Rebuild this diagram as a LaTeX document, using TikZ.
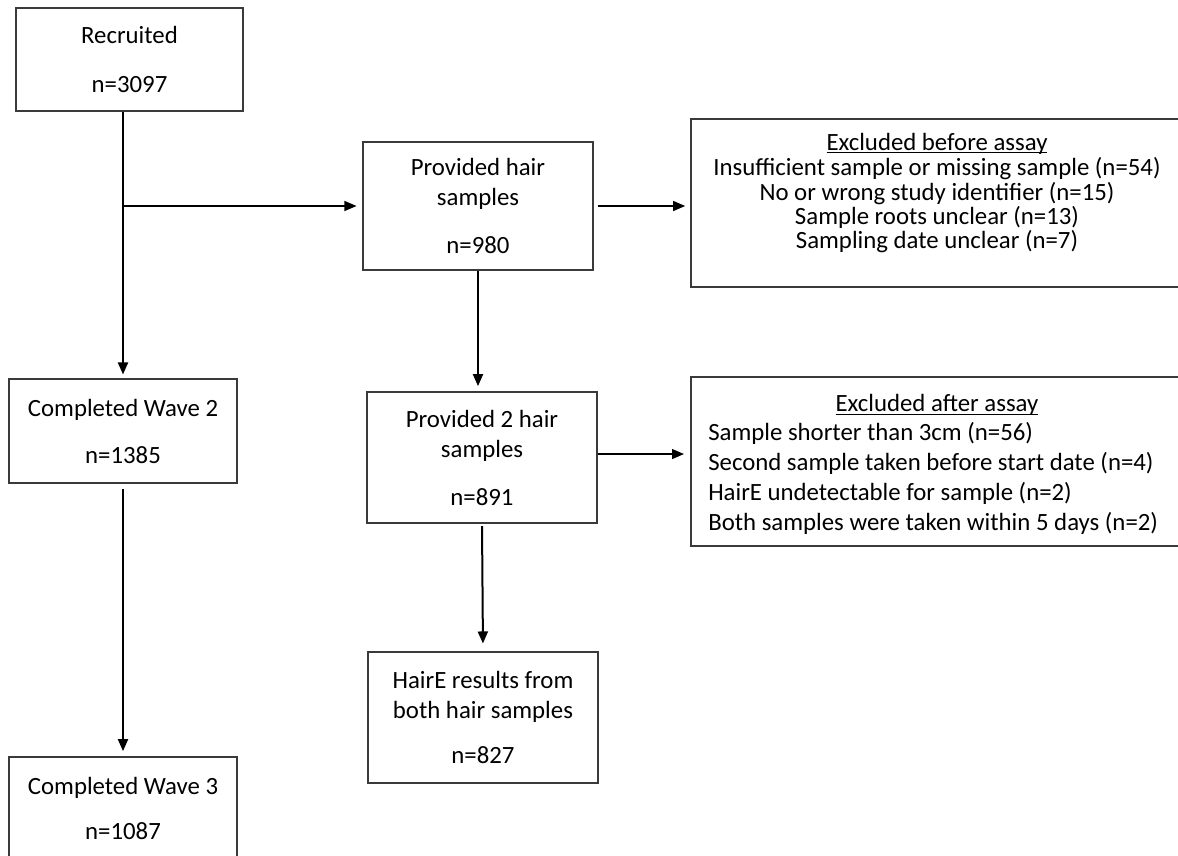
\documentclass[tikz,border=0pt]{standalone}
\usepackage{fontspec}
\setmainfont{Carlito}
\usetikzlibrary{arrows.meta}
\definecolor{boxgray}{HTML}{3A3A3A}
\newcommand\mytightlines{\lineskiplimit -40pt\relax}
\newcommand\myul[1]{\setbox0\hbox{#1}\rlap{\rule[-2.4pt]{\wd0}{0.85pt}}\box0}
\begin{document}
\begin{tikzpicture}[x=0.75pt,y=-0.75pt,
  box/.style={draw=boxgray,line width=0.8pt,inner sep=0pt,align=center,
    font=\fontsize{18.6}{22.5}\selectfont},
  txt/.style={inner sep=0pt,font=\fontsize{18.6}{22.5}\selectfont},
  tighttxt/.style={inner sep=0pt,font={\fontsize{18.6}{18.2}\selectfont\mytightlines}},
  thickarrow/.style={line width=1.5pt,-{Triangle[length=9pt,width=7.5pt]}},
  thinarrow/.style={line width=0.9pt,-{Triangle[length=9pt,width=7.5pt]}}]
\useasboundingbox (0,0) rectangle (1178,856);
% boxes
\node[box,minimum width=170.25pt,minimum height=77.25pt] (rec) at (129.5,59.5)
  {Recruited\\[14.25pt]n=3097};
\node[box,minimum width=172.5pt,minimum height=96pt] (ph) at (478,206)
  {Provided hair\\samples\\[13.5pt]n=980};
\node[box,minimum width=369pt,minimum height=126pt] (exb) at (937,203) {};
\node[tighttxt,align=center] (exbt) at (937,193)
  {\myul{Excluded before assay}\\[1pt]
   Insufficient sample or missing sample (n=54)\\
   No or wrong study identifier (n=15)\\
   Sample roots unclear (n=13)\\
   Sampling date unclear (n=7)};
\node[box,minimum width=171pt,minimum height=78pt] (w2) at (123,431)
  {Completed Wave 2\\[12.75pt]n=1385};
\node[box,minimum width=172.5pt,minimum height=98.25pt] (p2) at (482,457.5)
  {Provided 2 hair\\samples\\[13.5pt]n=891};
\node[box,line width=1.5pt,minimum width=369pt,minimum height=126.75pt] (exa) at (937,461.5) {};
\node[txt] (exatitle) at (937,405) {\myul{Excluded after assay}};
\node[txt,align=left,anchor=west] (exal) at (708,478)
  {Sample shorter than 3cm (n=56)\\
   Second sample taken before start date (n=4)\\
   HairE undetectable for sample (n=2)\\
   Both samples were taken within 5 days (n=2)};
\node[box,minimum width=172.5pt,minimum height=98.25pt] (he) at (483,717.5)
  {HairE results from\\both hair samples\\[11pt]n=827};
\node[box,minimum width=171pt,minimum height=77.25pt] (w3) at (123,808.5)
  {Completed Wave 3\\[11pt]n=1087};
% connectors
\coordinate (branch) at (w2.north |- ph.west);
\draw[thickarrow,shorten >=3pt] (w2.north |- rec.south) -- (w2.north);
\draw[thinarrow,shorten >=4.5pt] (branch) -- (ph.west);
\draw[thinarrow,shorten <=3pt,shorten >=4pt] (ph.east) -- (exb.west |- ph.east);
\draw[thickarrow,shorten >=4pt] (ph.south) -- (ph.south |- p2.north);
\coordinate (p2out) at ([yshift=2.6pt]p2.east);
\draw[thinarrow,shorten >=4.5pt] (p2out) -- (exa.west |- p2out);
\draw[thickarrow,shorten <=2pt,shorten >=6pt] (p2.south) -- (he.north);
\draw[thickarrow,shorten <=4pt,shorten >=4pt] (w2.south) -- (w3.north);
\end{tikzpicture}
\end{document}
